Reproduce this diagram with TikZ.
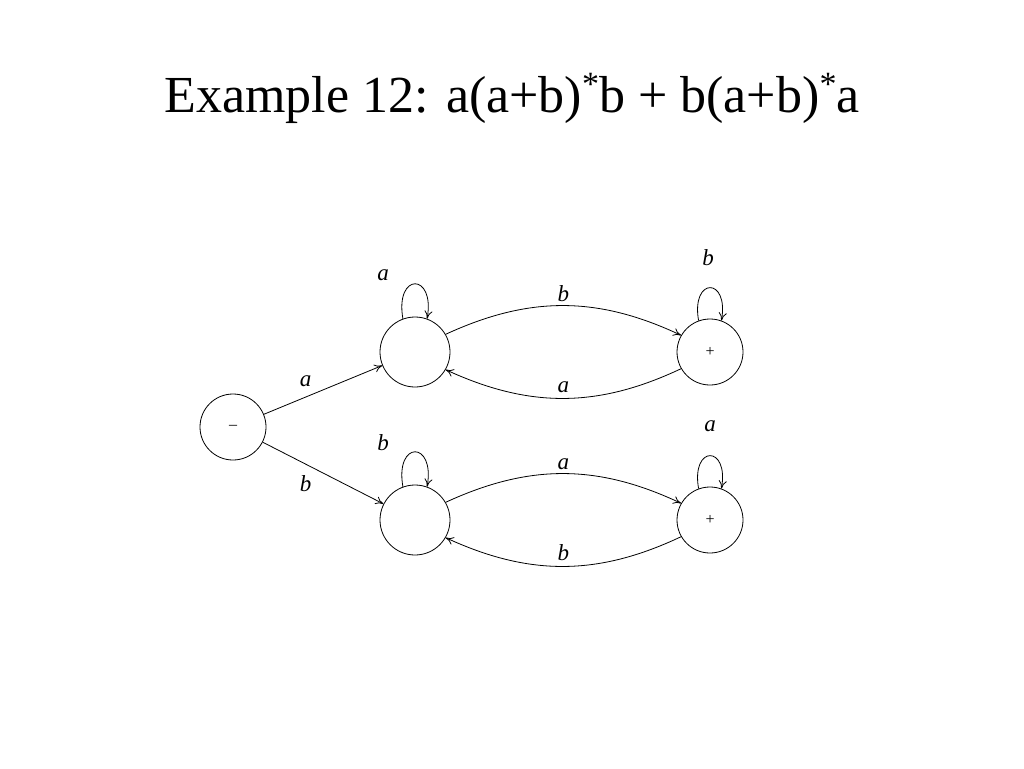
\documentclass[tikz,border=0pt]{standalone}
\usepackage{fontspec}
\setmainfont{Liberation Serif}
\usetikzlibrary{arrows.meta}
\newcommand{\supst}{\raisebox{17pt}{\fontsize{34}{34}\selectfont *}}
\begin{document}
\begin{tikzpicture}[x=1pt,y=-1pt,
 st/.style={draw,circle,minimum size=66pt,inner sep=0pt,line width=0.8pt,font=\fontsize{16}{16}\selectfont},
 ed/.style={-{To[length=8pt,width=8pt]},line width=0.8pt},
 lb/.style={font=\fontsize{23}{23}\selectfont\itshape}]
\useasboundingbox (0,0) rectangle (1024,768);
\node at (512,98) {\fontsize{52}{52}\selectfont Example 12: a(a+b)\supst b + b(a+b)\supst a};
\node[st] (s) at (233,427) {--};
\node[st,minimum size=70pt] (u) at (415,352) {};
\node[st] (ur) at (710,352) {+};
\node[st,minimum size=70pt] (l) at (415,520) {};
\node[st] (lr) at (710,520) {+};
\draw[ed] (s) -- (u) node[lb,pos=0.45,above left=2pt] {a};
\draw[ed] (s) -- (l) node[lb,pos=0.45,below left=2pt] {b};
\draw[ed] (u.30) to[bend left=25] node[lb,above] {b} (ur.150);
\draw[ed] (ur.210) to[bend left=25] node[lb,above=2pt] {a} (u.330);
\draw[ed] (l.30) to[bend left=25] node[lb,above] {a} (lr.150);
\draw[ed] (lr.210) to[bend left=25] node[lb,above=2pt] {b} (l.330);
\draw[ed] (u.110) to[out=100,in=80,looseness=5] (u.70);
\node[lb] at (383,275) {a};
\draw[ed] (l.110) to[out=100,in=80,looseness=5] (l.70);
\node[lb] at (383,443) {b};
\draw[ed] (ur.110) to[out=100,in=80,looseness=5] (ur.70);
\node[lb] at (708,258) {b};
\draw[ed] (lr.110) to[out=100,in=80,looseness=5] (lr.70);
\node[lb] at (710,426) {a};
\end{tikzpicture}
\end{document}
